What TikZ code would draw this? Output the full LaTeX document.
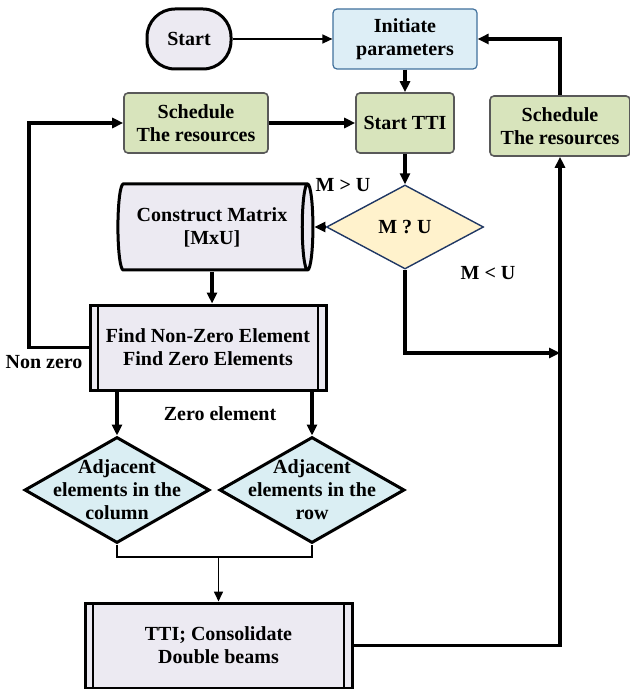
\documentclass[tikz,border=0pt]{standalone}
\usepackage{fontspec}
\setmainfont{Liberation Serif}
\usetikzlibrary{shapes.geometric,arrows.meta}

\definecolor{lavfill}{HTML}{ECEAF2}
\definecolor{initfill}{HTML}{DDEEF6}
\definecolor{initdraw}{HTML}{41719C}
\definecolor{schedfill}{HTML}{D8E4BC}
\definecolor{scheddraw}{HTML}{595959}
\definecolor{mufill}{HTML}{FFF2CC}
\definecolor{mudraw}{HTML}{203864}
\definecolor{adjfill}{HTML}{DAEEF3}

\begin{document}
\begin{tikzpicture}[x=0.5pt,y=-0.5pt,
    font=\bfseries\fontsize{10}{11.5}\selectfont,
    startbox/.style={rectangle, rounded corners=14pt, draw, line width=1.5pt, fill=lavfill,
      minimum width=42pt, minimum height=30pt, align=center},
    initbox/.style={rectangle, rounded corners=2pt, draw=initdraw, line width=0.6pt,
      fill=initfill, minimum width=72pt, minimum height=30pt, align=center},
    schedbox/.style={rectangle, rounded corners=2pt, draw=scheddraw, line width=0.8pt,
      fill=schedfill, minimum height=30pt, align=center},
    decision/.style={diamond, inner sep=0pt, align=center},
    procbox/.style={rectangle, draw, line width=1.5pt, fill=lavfill,
      minimum height=42.5pt, align=center,
      path picture={
        \draw[line width=1pt] ([xshift=4pt]path picture bounding box.north west)
          -- ([xshift=4pt]path picture bounding box.south west);
        \draw[line width=1pt] ([xshift=-4pt]path picture bounding box.north east)
          -- ([xshift=-4pt]path picture bounding box.south east);}},
    thinarrow/.style={-{Triangle[length=5pt,width=4.5pt]}, line width=0.8pt},
    thickarrow/.style={-{Triangle[length=5.5pt,width=5pt]}, line width=1.6pt}]

  \useasboundingbox (0,0) rectangle (630,689);

  % Top row
  \node[startbox] (start) at (189,39) {Start};
  \node[initbox] (init) at (405,39) {Initiate\\parameters};

  % Scheduling and TTI
  \node[schedbox, minimum width=72pt] (schedL) at (196,123) {Schedule\\The resources};
  \node[schedbox, minimum width=49pt] (tti) at (405,123) {Start TTI};
  \node[schedbox, minimum width=70pt] (schedR) at (560,126) {Schedule\\The resources};

  % Decision M ? U
  \node[decision, draw=mudraw, fill=mufill, line width=0.7pt,
    minimum width=78.5pt, minimum height=42pt] (mu) at (405,227) {M ? U};
  \node (lgt) at (343,185) {M > U};
  \node (llt) at (488,273) {M < U};

  % Matrix
  \node[cylinder, draw, line width=1.5pt, fill=lavfill, aspect=0.27, inner sep=0pt,
    minimum width=43pt, minimum height=97.5pt, align=center] (cyl) at (212,227)
    {Construct Matrix\\{[MxU]}};

  % Element search
  \node[procbox, minimum width=118pt] (find) at (208,347.5)
    {Find Non-Zero Element\\Find Zero Elements};
  \node (lnz) at (44,362) {Non zero};
  \node (lze) at (220,414) {Zero element};

  % Adjacent elements
  \node[decision, draw, fill=adjfill, line width=1.5pt,
    minimum width=92.5pt, minimum height=53pt,
    label={[align=center]center:{Adjacent\\elements in the\\column}}] (adjC) at (117,490) {};
  \node[decision, draw, fill=adjfill, line width=1.5pt,
    minimum width=92.5pt, minimum height=53pt,
    label={[align=center]center:{Adjacent\\elements in the\\row}}] (adjR) at (312,490) {};

  % Consolidation
  \node[procbox, minimum width=133.5pt] (tail) at (218.5,645.5)
    {TTI; Consolidate\\Double beams};

  % Connectors
  \coordinate (loopL) at (29,347.5);
  \coordinate (rbus) at (560,353);
  \coordinate (join) at (218.5,557);

  \draw[thinarrow] (start) -- (init);
  \draw[thickarrow] (init) -- (tti);
  \draw[thickarrow] (schedL) -- (tti);
  \draw[thickarrow] (schedR) |- (init);
  \draw[thickarrow] (find.west) -- (loopL) |- (schedL.west);
  \draw[thickarrow] (tti) -- (mu);
  \draw[thickarrow] (mu) -- (cyl);
  \draw[thickarrow] (cyl.south) -- (cyl.south |- find.north);
  \draw[thickarrow] (mu.south) |- (rbus);
  \draw[thickarrow] (tail.east) -| (schedR.south);
  \draw[thickarrow] (adjC |- find.south) -- (adjC.north);
  \draw[thickarrow] (adjR |- find.south) -- (adjR.north);
  \draw[line width=0.9pt] (adjC.south) |- (join) -| (adjR.south);
  \draw[thinarrow] (join) -- (tail);

\end{tikzpicture}
\end{document}
